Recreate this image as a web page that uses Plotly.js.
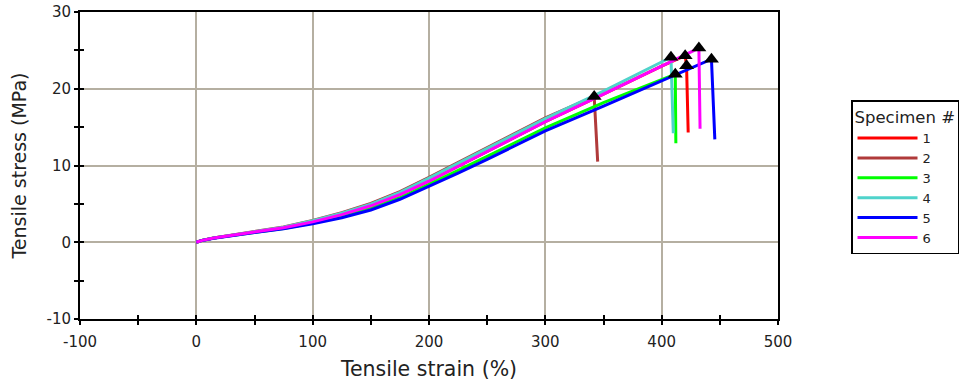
<!DOCTYPE html>
<html>
<head>
<meta charset="utf-8">
<script src="https://cdn.plot.ly/plotly-3.0.1.min.js"></script>
<style>
html,body{margin:0;padding:0;background:#fff;}
#chart{width:974px;height:389px;}
</style>
</head>
<body>
<div id="chart"></div>
<script>
// ---- data ----
const specimenNames = ['1', '2', '3', '4', '5', '6'];
const seriesColors = ['#ff0000', '#b03a3a', '#00ff00', '#4fd3cb', '#0000ff', '#ff00ff'];

const strain1 = [0, 5, 15, 30, 50, 75, 100, 125, 150, 175, 200, 225, 250, 300, 350, 400, 420.2, 421.4, 422.8];
const stress1 = [0, 0.25, 0.55, 0.9, 1.35, 1.9, 2.65, 3.6, 4.75, 6.2, 7.95, 9.9, 11.9, 15.7, 19.3, 22.95, 24.3, 23.0, 14.3];

const strain2 = [0, 5, 15, 30, 50, 75, 100, 125, 150, 175, 200, 225, 250, 300, 342, 345];
const stress2 = [0, 0.25, 0.55, 0.92, 1.4, 2.0, 2.85, 3.85, 5.05, 6.6, 8.45, 10.4, 12.4, 16.2, 19.0, 10.5];

const strain3 = [0, 5, 15, 30, 50, 75, 100, 125, 150, 175, 200, 225, 250, 300, 350, 411.7, 412.2];
const stress3 = [0, 0.25, 0.55, 0.88, 1.3, 1.8, 2.5, 3.35, 4.4, 5.8, 7.55, 9.35, 11.2, 14.9, 18.2, 21.9, 12.9];

const strain4 = [0, 5, 15, 30, 50, 75, 100, 125, 150, 175, 200, 225, 250, 300, 350, 408, 410];
const stress4 = [0, 0.25, 0.55, 0.91, 1.38, 1.95, 2.8, 3.78, 4.95, 6.5, 8.35, 10.3, 12.25, 16.1, 19.7, 24.1, 14.2];

const strain5 = [0, 5, 15, 30, 50, 75, 100, 125, 150, 175, 200, 225, 250, 300, 350, 400, 442.8, 445.7];
const stress5 = [0, 0.24, 0.53, 0.86, 1.28, 1.75, 2.4, 3.2, 4.2, 5.6, 7.25, 9.0, 10.8, 14.5, 17.75, 21.0, 23.85, 13.4];

const strain6 = [0, 5, 15, 30, 50, 75, 100, 125, 150, 175, 200, 225, 250, 300, 350, 400, 432, 433];
const stress6 = [0, 0.25, 0.55, 0.9, 1.35, 1.9, 2.65, 3.6, 4.75, 6.2, 7.95, 9.9, 11.9, 15.7, 19.3, 22.95, 25.3, 14.8];

// break markers (black triangles)
const breakStrain = [420.2, 421.4, 342, 411.7, 408, 442.8, 432];
const breakStress = [24.3, 23.0, 19.0, 21.9, 24.1, 23.85, 25.3];

const xTickVals = [-100, 0, 100, 200, 300, 400, 500];
const yTickVals = [-10, 0, 10, 20, 30];

// ---- build traces ----
const strains = [strain1, strain2, strain3, strain4, strain5, strain6];
const stresses = [stress1, stress2, stress3, stress4, stress5, stress6];

const traces = strains.map((sx, i) => ({
  type: 'scatter',
  mode: 'lines',
  x: sx,
  y: stresses[i],
  name: specimenNames[i],
  line: {color: seriesColors[i], width: 3},
  hoverinfo: 'x+y+name'
}));

traces.push({
  type: 'scatter',
  mode: 'markers',
  x: breakStrain,
  y: breakStress,
  showlegend: false,
  marker: {symbol: 'triangle-up', size: 13, color: '#000'},
  hoverinfo: 'x+y'
});

// dummy trace so the overlay axes (inside ticks) exist
traces.push({type: 'scatter', x: [], y: [], xaxis: 'x2', yaxis: 'y2', showlegend: false, hoverinfo: 'skip'});

const FAMILY = 'DejaVu Sans, Verdana, sans-serif';
const tickFont = {family: FAMILY, size: 15, color: '#222'};

const layout = {
  width: 974,
  height: 389,
  margin: {l: 80, r: 196, t: 12, b: 70},
  paper_bgcolor: '#fff',
  plot_bgcolor: '#fff',
  showlegend: true,
  legend: {
    x: 1.1046, y: 0.713, xanchor: 'left', yanchor: 'top',
    bordercolor: '#000', borderwidth: 1.5, bgcolor: '#fff',
    title: {text: 'Specimen #', font: {family: FAMILY, size: 16.5, color: '#222'}},
    font: {family: FAMILY, size: 13, color: '#222'},
    itemwidth: 60,
    tracegroupgap: 0
  },
  xaxis: {
    range: [-100, 500],
    tickvals: xTickVals,
    ticktext: xTickVals.map(String),
    ticks: 'outside', ticklen: 4, tickwidth: 2, tickcolor: '#000',
    minor: {dtick: 50, tick0: 0, ticks: 'outside', ticklen: 4, tickwidth: 2, tickcolor: '#000', showgrid: false},
    showgrid: true, gridcolor: '#b5afa1', gridwidth: 2,
    zeroline: false,
    showline: true, linecolor: '#000', linewidth: 2, mirror: true,
    tickfont: tickFont,
    ticklabelstandoff: 4,
    title: {text: 'Tensile strain (%)', font: {family: FAMILY, size: 20.5, color: '#222'}, standoff: 12},
    fixedrange: true
  },
  yaxis: {
    range: [-10, 30],
    tickvals: yTickVals,
    ticktext: yTickVals.map(String),
    ticks: 'outside', ticklen: 4, tickwidth: 2, tickcolor: '#000',
    minor: {dtick: 5, tick0: 0, ticks: 'outside', ticklen: 4, tickwidth: 2, tickcolor: '#000', showgrid: false},
    showgrid: true, gridcolor: '#b5afa1', gridwidth: 2,
    zeroline: false,
    showline: true, linecolor: '#000', linewidth: 2, mirror: true,
    tickfont: tickFont,
    title: {text: 'Tensile stress (MPa)', font: {family: FAMILY, size: 19, color: '#222'}, standoff: 15},
    fixedrange: true
  },
  xaxis2: {
    overlaying: 'x', anchor: 'y', side: 'bottom',
    range: [-100, 500],
    tickvals: xTickVals,
    ticks: 'inside', ticklen: 4, tickwidth: 2, tickcolor: '#000',
    minor: {dtick: 50, tick0: 0, ticks: 'inside', ticklen: 4, tickwidth: 2, tickcolor: '#000', showgrid: false},
    showticklabels: false, showgrid: false, zeroline: false, showline: false,
    fixedrange: true
  },
  yaxis2: {
    overlaying: 'y', anchor: 'x', side: 'left',
    range: [-10, 30],
    tickvals: yTickVals,
    ticks: 'inside', ticklen: 4, tickwidth: 2, tickcolor: '#000',
    minor: {dtick: 5, tick0: 0, ticks: 'inside', ticklen: 4, tickwidth: 2, tickcolor: '#000', showgrid: false},
    showticklabels: false, showgrid: false, zeroline: false, showline: false,
    fixedrange: true
  }
};

Plotly.newPlot('chart', traces, layout, {displayModeBar: false, staticPlot: true});
</script>
</body>
</html>
